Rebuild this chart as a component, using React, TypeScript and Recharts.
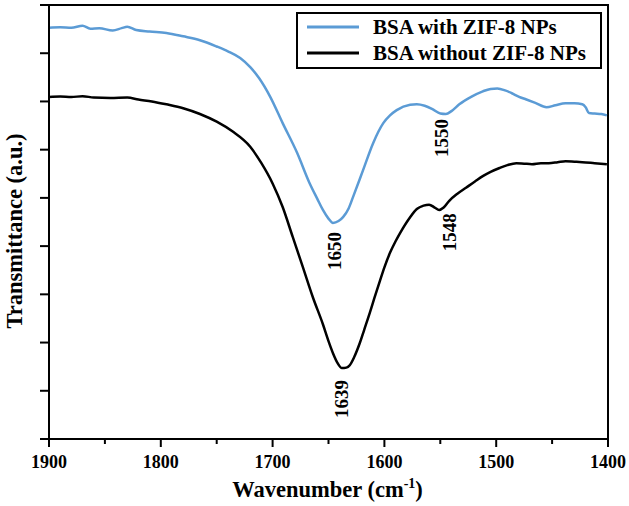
import { LineChart, Line, XAxis, YAxis, ReferenceArea, ReferenceDot } from "recharts";

const SERIF = '"Liberation Serif", "Times New Roman", serif';
const BLUE = "#5B9BD5";
const INK = "#000000";

// BSA with ZIF-8 NPs
const withWavenumber = [
  1900, 1890, 1880, 1870, 1863, 1855, 1843, 1835, 1830, 1822, 1810, 1795, 1780, 1765,
  1750, 1740, 1729, 1720, 1712, 1702, 1691, 1678, 1667, 1660, 1655, 1650, 1646, 1641,
  1637, 1632, 1628, 1619, 1610, 1601, 1595, 1589, 1577, 1571, 1564, 1557, 1550, 1545,
  1540, 1533, 1522, 1512, 1505, 1499, 1492, 1486, 1480, 1473, 1465, 1455, 1447, 1438,
  1430, 1423, 1420, 1417, 1412, 1406, 1401,
];
const withTransmittance = [
  8.53, 8.54, 8.53, 8.57, 8.51, 8.52, 8.47, 8.52, 8.55, 8.48, 8.45, 8.42, 8.35, 8.27,
  8.14, 8.04, 7.9, 7.71, 7.48, 7.09, 6.55, 5.93, 5.31, 4.98, 4.75, 4.57, 4.48, 4.52,
  4.6, 4.78, 5.02, 5.58, 6.14, 6.55, 6.71, 6.82, 6.93, 6.94, 6.91, 6.84, 6.75, 6.74,
  6.8, 6.94, 7.1, 7.21, 7.26, 7.27, 7.23, 7.17, 7.1, 7.04, 6.97, 6.88, 6.92, 6.96,
  6.96, 6.94, 6.88, 6.76, 6.75, 6.74, 6.71,
];

// BSA without ZIF-8 NPs
const withoutWavenumber = [
  1900, 1890, 1880, 1870, 1860, 1845, 1830, 1820, 1808, 1795, 1780, 1765, 1750, 1736,
  1720, 1710, 1700, 1691, 1682, 1673, 1664, 1655, 1650, 1646, 1642, 1638, 1634, 1631,
  1627, 1622, 1618, 1613, 1609, 1604, 1600, 1595, 1590, 1586, 1577, 1571, 1565, 1560,
  1555, 1551, 1547, 1542, 1535, 1527, 1519, 1512, 1505, 1497, 1490, 1482, 1475, 1468,
  1460, 1453, 1445, 1438, 1430, 1423, 1412, 1401,
];
const withoutTransmittance = [
  7.09, 7.1, 7.09, 7.11, 7.08, 7.07, 7.08, 7.04, 7.0, 6.94, 6.86, 6.74, 6.58, 6.38,
  6.06, 5.72, 5.3, 4.81, 4.19, 3.57, 2.94, 2.38, 2.03, 1.78, 1.58, 1.47, 1.48, 1.53,
  1.7, 1.99, 2.27, 2.62, 2.92, 3.28, 3.56, 3.86, 4.1, 4.27, 4.6, 4.77, 4.84, 4.86,
  4.8, 4.75, 4.8, 4.94, 5.08, 5.21, 5.34, 5.45, 5.54, 5.62, 5.68, 5.72, 5.71, 5.7,
  5.72, 5.72, 5.74, 5.76, 5.75, 5.74, 5.72, 5.7,
];

const xTicks = [1900, 1850, 1800, 1750, 1700, 1650, 1600, 1550, 1500, 1450, 1400];
const yTicks = [0, 1, 2, 3, 4, 5, 6, 7, 8, 9];

const peakLabels = ["1650", "1550", "1639", "1548"];
const peakWavenumbers = [1645, 1549, 1638, 1542];
const peakLevels = [3.9, 6.24, 0.83, 4.29];

const seriesNames = ["BSA with ZIF-8 NPs", "BSA without ZIF-8 NPs"];
const seriesColors = [BLUE, INK];

const withZif = withWavenumber.map((w, i) => ({ w, t: withTransmittance[i] }));
const withoutZif = withoutWavenumber.map((w, i) => ({ w, t: withoutTransmittance[i] }));

function XTick(props: any) {
  const { x, y, payload } = props;
  const major = payload.value % 100 === 0;
  return (
    <g>
      <line x1={x} x2={x} y1={y} y2={y + (major ? 8 : 5)} stroke={INK} strokeWidth={2} />
      {major && (
        <text
          x={x}
          y={y + 29}
          textAnchor="middle"
          fontFamily={SERIF}
          fontWeight="bold"
          fontSize={18}
          fill={INK}
        >
          {payload.value}
        </text>
      )}
    </g>
  );
}

function PeakText(props: any) {
  const { cx, cy, text } = props;
  return (
    <text
      x={cx}
      y={cy}
      transform={`rotate(-90, ${cx}, ${cy})`}
      textAnchor="middle"
      dominantBaseline="central"
      fontFamily={SERIF}
      fontSize={19}
      fontWeight="bold"
      fill={INK}
    >
      {text}
    </text>
  );
}

function XTitle(props: any) {
  const { viewBox } = props;
  const cx = viewBox.x + viewBox.width / 2 - 1;
  return (
    <text
      x={cx}
      y={viewBox.y + 58}
      textAnchor="middle"
      fontFamily={SERIF}
      fontWeight="bold"
      fontSize={22.5}
      fill={INK}
    >
      Wavenumber (cm
      <tspan fontSize={14} dy={-9}>-1</tspan>
      <tspan dy={9}>)</tspan>
    </text>
  );
}

function YTitle(props: any) {
  const { viewBox } = props;
  const cy = viewBox.y + viewBox.height / 2 + 9;
  const cx = 14;
  return (
    <text
      x={cx}
      y={cy}
      transform={`rotate(-90, ${cx}, ${cy})`}
      textAnchor="middle"
      dominantBaseline="central"
      fontFamily={SERIF}
      fontWeight="bold"
      fontSize={22.5}
      fill={INK}
    >
      Transmittance (a.u.)
    </text>
  );
}

function LegendBox() {
  return (
    <div
      style={{
        position: "absolute",
        left: 296,
        top: 12,
        width: 306,
        height: 57,
        boxSizing: "border-box",
        border: "2px solid #000",
        background: "#fff",
        fontFamily: SERIF,
        fontWeight: "bold",
        fontSize: 21,
      }}
    >
      {seriesNames.map((name, i) => (
        <div key={name} style={{ display: "flex", alignItems: "center", height: 26 }}>
          <svg width={52} height={6} style={{ marginLeft: 9, marginRight: 14 }}>
            <line x1={0} x2={52} y1={3} y2={3} stroke={seriesColors[i]} strokeWidth={3} />
          </svg>
          <span style={{ lineHeight: "26px", whiteSpace: "nowrap" }}>{name}</span>
        </div>
      ))}
    </div>
  );
}

export default function App() {
  return (
    <div style={{ position: "absolute", left: 0, top: 0, width: 629, height: 506, background: "#fff" }}>
      <LineChart width={629} height={506} margin={{ top: 5, right: 21, left: 0, bottom: 0 }}>
        <XAxis
          dataKey="w"
          type="number"
          domain={[1400, 1900]}
          reversed
          ticks={xTicks}
          interval={0}
          height={67}
          tickSize={0}
          tickMargin={0}
          tickLine={false}
          tick={<XTick />}
          axisLine={{ stroke: INK, strokeWidth: 2 }}
          label={<XTitle />}
        />
        <YAxis
          type="number"
          domain={[0, 9]}
          ticks={yTicks}
          interval={0}
          width={49}
          tickSize={9}
          tick={<g />}
          tickLine={{ stroke: INK, strokeWidth: 2 }}
          axisLine={{ stroke: INK, strokeWidth: 2 }}
          label={<YTitle />}
        />
        <ReferenceArea x1={1900} x2={1400} y1={0} y2={9} fill="none" stroke={INK} strokeWidth={2} />
        <Line
          data={withZif}
          dataKey="t"
          type="monotone"
          stroke={BLUE}
          strokeWidth={2.5}
          dot={false}
          isAnimationActive={false}
        />
        <Line
          data={withoutZif}
          dataKey="t"
          type="monotone"
          stroke={INK}
          strokeWidth={2.5}
          dot={false}
          isAnimationActive={false}
        />
        {peakLabels.map((text, i) => (
          <ReferenceDot
            key={text}
            x={peakWavenumbers[i]}
            y={peakLevels[i]}
            r={0}
            shape={(p: any) => <PeakText cx={p.cx} cy={p.cy} text={text} />}
          />
        ))}
      </LineChart>
      <LegendBox />
    </div>
  );
}
